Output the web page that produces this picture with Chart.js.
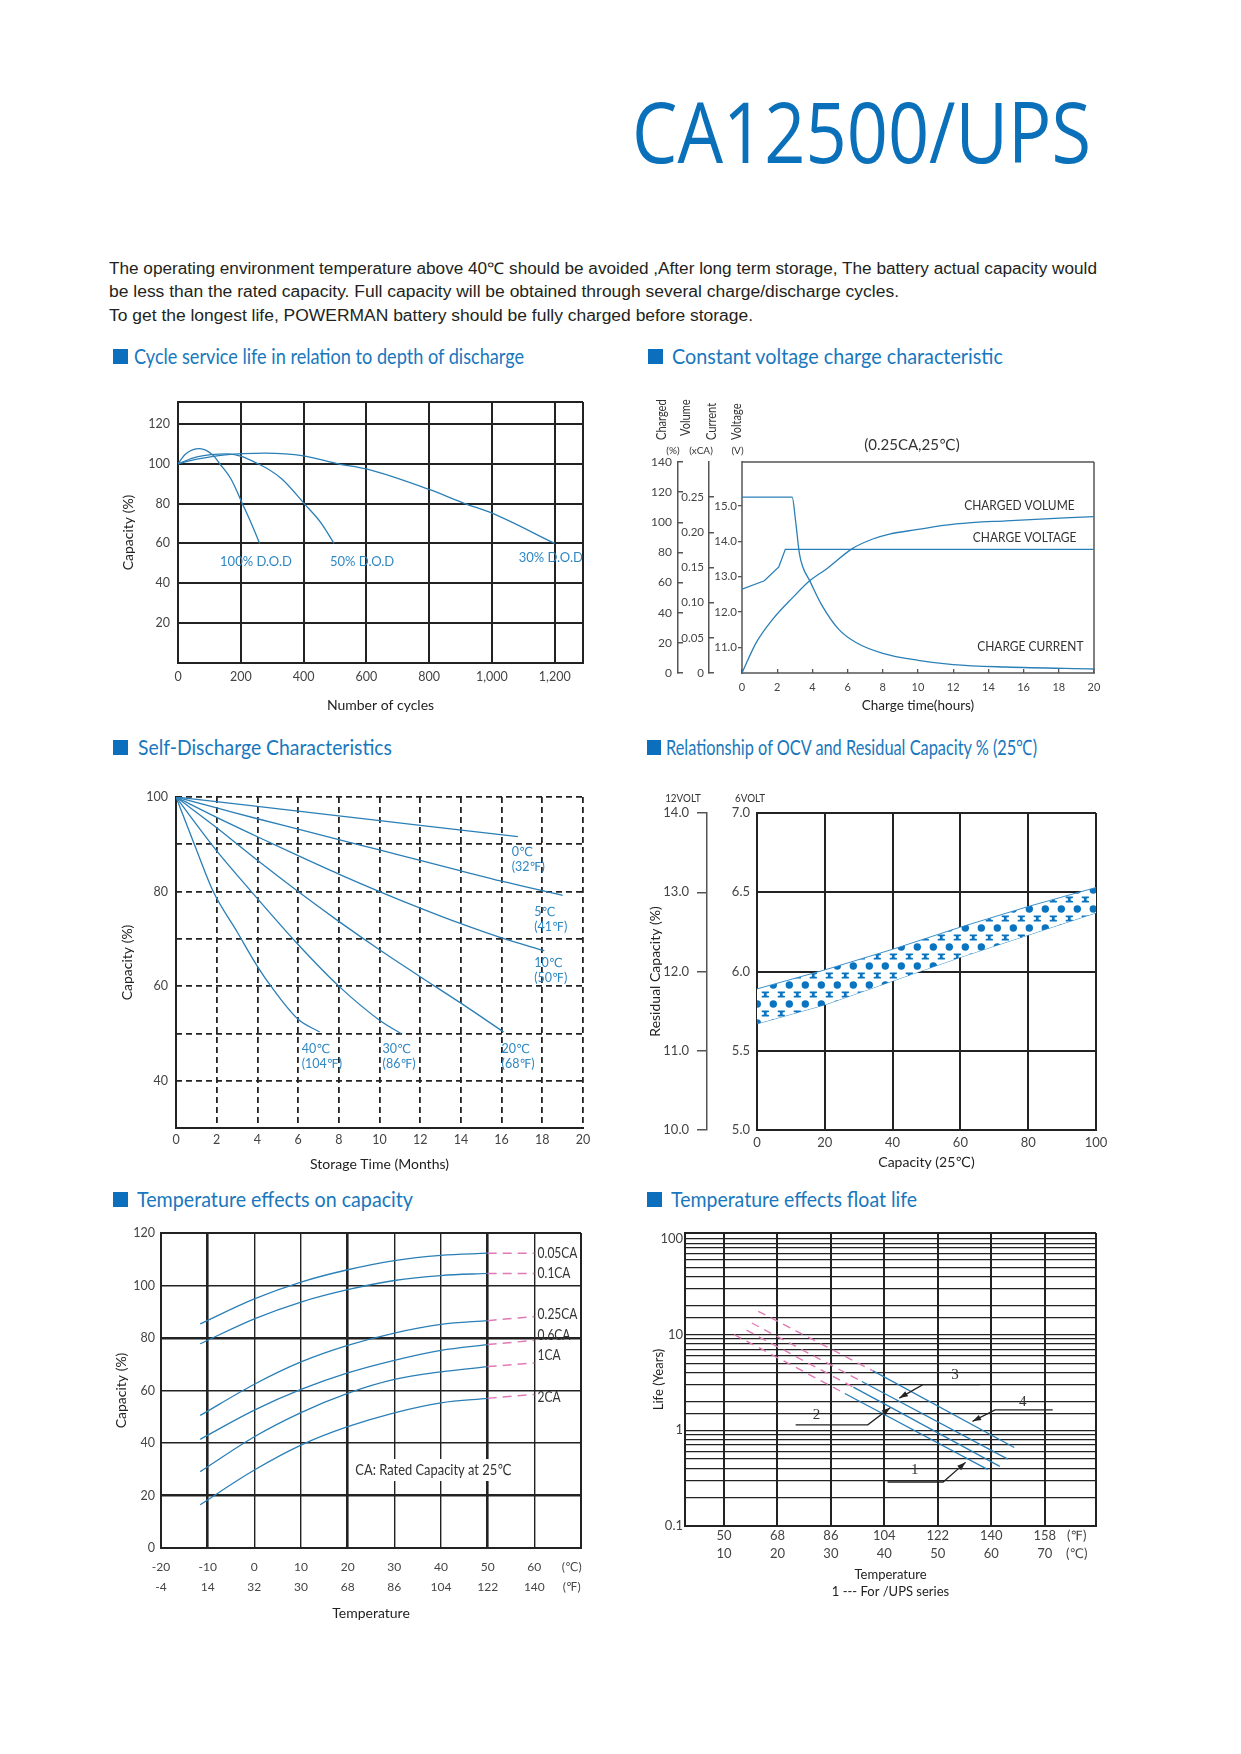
<!DOCTYPE html>
<html>
<head>
<meta charset="utf-8">
<title>CA12500/UPS</title>
<script src="https://cdn.jsdelivr.net/npm/chart.js@4.4.1/dist/chart.umd.min.js"></script>
<style>
  html, body { margin: 0; padding: 0; background: #fff; }
  body { position: relative; width: 1241px; height: 1754px; overflow: hidden; font-family: Lato, sans-serif; }
  .t { position: absolute; white-space: nowrap; display: inline-block; transform-origin: 0 0; }
  .title { left: 632px; top: 89px; font-family: 'Open Sans', sans-serif; font-size: 84px; line-height: 84px; color: #0a70b9; }
  .para { left: 109px; font-family: 'Liberation Sans', Arial, sans-serif; font-size: 16px; line-height: 23.3px; color: #231f20; }
  .head { font-family: Lato, sans-serif; font-size: 21px; line-height: 21px; color: #1877bd; }
  .sq { position: absolute; width: 15px; height: 15px; background: #0b6fbe; }
  canvas { position: absolute; }
</style>
</head>
<body>
<div class="t title" data-w="459">CA12500/UPS</div>
<div class="t para" style="top:257px" data-w="988">The operating environment temperature above 40℃ should be avoided ,After long term storage, The battery actual capacity would</div>
<div class="t para" style="top:280px" data-w="790">be less than the rated capacity. Full capacity will be obtained through several charge/discharge cycles.</div>
<div class="t para" style="top:303.5px" data-w="644">To get the longest life, POWERMAN battery should be fully charged before storage.</div>

<div class="sq" style="left:113px;top:349px"></div>
<div class="t head" style="left:134px;top:345.4px" data-w="390">Cycle service life in relation to depth of discharge</div>
<div class="sq" style="left:648px;top:349px"></div>
<div class="t head" style="left:672px;top:345.4px" data-w="331">Constant voltage charge characteristic</div>
<div class="sq" style="left:113px;top:740px"></div>
<div class="t head" style="left:138px;top:736.4px" data-w="254">Self-Discharge Characteristics</div>
<div class="sq" style="left:647px;top:740px;width:14px"></div>
<div class="t head" style="left:666px;top:736.4px" data-w="371">Relationship of OCV and Residual Capacity % (25℃)</div>
<div class="sq" style="left:113px;top:1192px"></div>
<div class="t head" style="left:137px;top:1188px" data-w="276">Temperature effects on capacity</div>
<div class="sq" style="left:647px;top:1192px"></div>
<div class="t head" style="left:671px;top:1188px" data-w="246">Temperature effects float life</div>

<canvas id="cycle" width="480" height="340" style="left:110px;top:380px"></canvas>
<canvas id="charge" width="465" height="330" style="left:640px;top:390px"></canvas>
<canvas id="selfdis" width="485" height="393" style="left:110px;top:785px"></canvas>
<canvas id="ocv" width="480" height="392" style="left:640px;top:783px"></canvas>
<canvas id="tempcap" width="490" height="410" style="left:100px;top:1220px"></canvas>
<canvas id="floatlife" width="465" height="383" style="left:640px;top:1222px"></canvas>

<script>
// ---- data ----
// cycle life vs depth of discharge
const cycleX100 = [0, 25, 69, 110, 133, 170, 205, 235, 260];
const cycleY100 = [100, 105, 107.6, 104.5, 100, 92, 80, 69.5, 60];
const cycleX50 = [0, 60, 159, 255, 330, 402, 457, 497];
const cycleY50 = [100, 103.5, 105, 100, 92.5, 80, 70, 60];
const cycleX30 = [0, 60, 150, 276, 400, 510, 600, 800, 914, 1000, 1200];
const cycleY30 = [100, 102.3, 104.5, 105.3, 104, 100, 97.4, 87.1, 80, 75.2, 60];
const cycleTicks = [0, 200, 400, 600, 800, 1000, 1200];
const cycleCapTicks = [20, 40, 60, 80, 100, 120];

// constant voltage charge (0.25CA, 25C)
const volHours = [0, 0.8, 1.74, 2.88, 3.83, 4.78, 6.29, 7.43, 8.38, 9.9, 12.17, 15, 20];
const volCharged = [0, 20, 35.6, 50, 61, 68.9, 82.7, 88.9, 92.2, 95.1, 98.9, 101, 103.8];
const curHours = [0, 2.85, 3.05, 3.26, 3.45, 3.83, 4.5, 5.5, 6.5, 8, 10, 12, 15, 20];
const curAmps = [0.25, 0.25, 0.215, 0.17, 0.151, 0.132, 0.098, 0.062, 0.043, 0.028, 0.018, 0.012, 0.0085, 0.0057];
const voltHours = [0, 1.27, 2.09, 2.46, 20];
const voltValues = [12.64, 12.88, 13.27, 13.77, 13.77];
const chargeTimeTicks = [0, 2, 4, 6, 8, 10, 12, 14, 16, 18, 20];
const chargedTicks = [0, 20, 40, 60, 80, 100, 120, 140];
const currentTicks = [0, 0.05, 0.1, 0.15, 0.2, 0.25];
const voltageTicks = [11, 12, 13, 14, 15];

// self discharge
const sd0X = [0, 4, 8, 12, 16.8];
const sd0Y = [100, 98, 96, 94, 91.6];
const sd5X = [0, 2, 4, 6, 8, 10, 12, 14, 16, 19];
const sd5Y = [100, 97.7, 95.4, 93.2, 91, 88.8, 86.6, 84.4, 82.2, 79.2];
const sd10X = [0, 2, 4, 6, 8, 10, 12, 14, 16, 18.1];
const sd10Y = [100, 95.7, 91.6, 87.6, 83.7, 80, 76.5, 73.2, 70.2, 67.5];
const sd20X = [0, 2, 4, 6, 8, 10, 12, 14, 16.1];
const sd20Y = [100, 93.5, 86.6, 80, 73.7, 67.7, 62, 56.4, 50.3];
const sd30X = [0, 1, 2, 3.7, 6, 8, 10, 11.05];
const sd30Y = [100, 94.2, 88.6, 80, 68.8, 60, 52.8, 50];
const sd40X = [0, 0.9, 1.83, 3, 4, 4.8, 6, 7.06];
const sd40Y = [100, 90, 80, 71.5, 64.2, 59.2, 53, 50.3];

// OCV vs residual capacity band
const ocvCap = [0, 20, 40, 60, 80, 100];
const ocvHigh = [5.89, 6.01, 6.14, 6.28, 6.41, 6.53];
const ocvLow = [5.67, 5.79, 5.94, 6.09, 6.23, 6.37];

// temperature effects on capacity
const tempX = [-11.6, 0, 10, 20, 30, 40, 50];
const cap005 = [85.4, 94.9, 101.3, 106, 109.5, 111.5, 112.3];
const cap01 = [77.8, 87.3, 93.7, 98.4, 101.9, 103.8, 104.6];
const cap025 = [50.5, 62.4, 70.9, 77.2, 81.9, 85.2, 86.6];
const cap06 = [41.4, 52.5, 60.4, 66.7, 71.5, 75.3, 77.5];
const cap1 = [29.1, 42.4, 51.6, 58.9, 64.2, 67.1, 69.1];
const cap2 = [16.5, 29.7, 39.2, 46.2, 51.5, 55.3, 57];
const extX = [50, 60];
const capExt = [112.3, 104.6, 88.2, 79.1, 70.5, 58.5];
const capRates = ['0.05CA', '0.1CA', '0.25CA', '0.6CA', '1CA', '2CA'];
const capLabelY = [112.3, 104.6, 88.9, 81, 73.4, 57.6];
const capTempTicks = [-20, -10, 0, 10, 20, 30, 40, 50, 60, 68];
const capTempC = ['-20', '-10', '0', '10', '20', '30', '40', '50', '60', '(℃)'];
const capTempF = ['-4', '14', '32', '30', '68', '86', '104', '122', '140', '(℉)'];

// float life vs temperature (4 lines)
const lifeStartC = [11.9, 14.2, 15.2, 16.4];
const lifeStartY = [10.0, 11.1, 13.2, 17.5];
const lifeMidC = [32.6, 34.2, 35.8, 37.8];
const lifeMidY = [2.42, 2.82, 3.23, 4.2];
const lifeEndC = [59.3, 61.6, 63.1, 64.3];
const lifeEndY = [0.39, 0.42, 0.50, 0.66];
const lifeTempTicks = [10, 20, 30, 40, 50, 60, 70, 76];
const lifeTempF = ['50', '68', '86', '104', '122', '140', '158', '(℉)'];
const lifeTempC = ['10', '20', '30', '40', '50', '60', '70', '(℃)'];

// ---- helpers ----
const lineBlue = '#2a7fb6';
const labelBlue = '#2f88c4';
const pink = '#e07ab5';
const gridDark = '#222';
const clear = 'rgba(0,0,0,0)';
const FONT = 'Lato, "DejaVu Sans", sans-serif';

Chart.defaults.font.family = FONT;
Chart.defaults.font.size = 12;
Chart.defaults.color = '#444';
Chart.defaults.animation = false;
Chart.defaults.responsive = false;
Chart.defaults.devicePixelRatio = 1;
Chart.defaults.plugins.legend.display = false;
Chart.defaults.plugins.tooltip.enabled = false;
Chart.defaults.elements.point.radius = 0;

const pts = (xs, ys) => xs.map((x, i) => ({ x, y: ys[i] }));
const curve = (xs, ys, extra) => Object.assign({
  data: pts(xs, ys), borderColor: lineBlue, borderWidth: 1.3,
  cubicInterpolationMode: 'monotone', fill: false
}, extra || {});
// fixed axis sizes, and no extra room for overhanging end labels
const fixW = w => s => { s.width = w; s.paddingTop = 0; s.paddingBottom = 0; };
const fixH = h => s => { s.height = h; s.paddingLeft = 0; s.paddingRight = 0; };
const setTicks = arr => s => { s.ticks = arr.map(v => ({ value: v })); };

const frame = {
  id: 'frame',
  beforeDatasetsDraw(chart, args, opts) {
    const a = chart.chartArea, ctx = chart.ctx;
    const sides = opts.sides || 'tlbr';
    ctx.save();
    ctx.strokeStyle = opts.color || gridDark;
    ctx.lineWidth = opts.width || 2;
    ctx.beginPath();
    if (sides.includes('t')) { ctx.moveTo(a.left, a.top); ctx.lineTo(a.right, a.top); }
    if (sides.includes('r')) { ctx.moveTo(a.right, a.top); ctx.lineTo(a.right, a.bottom); }
    if (sides.includes('b')) { ctx.moveTo(a.left - 1, a.bottom); ctx.lineTo(a.right + 1, a.bottom); }
    if (sides.includes('l')) { ctx.moveTo(a.left, a.top - 1); ctx.lineTo(a.left, a.bottom + 1); }
    ctx.stroke();
    ctx.restore();
  }
};

function drawText(ctx, it, px, py) {
  ctx.save();
  ctx.font = it.font || ('13px ' + FONT);
  ctx.fillStyle = it.color || '#333';
  ctx.textBaseline = 'middle';
  ctx.textAlign = it.align || 'left';
  const lines = it.text.split('\n');
  const lh = it.lh || 15;
  ctx.translate(px, py);
  if (it.rot) ctx.rotate(it.rot);
  ctx.scale(it.sx || 1, 1);
  if (it.bg) {
    const w = Math.max(...lines.map(t => ctx.measureText(t).width));
    const x0 = it.align === 'center' ? -w / 2 : it.align === 'right' ? -w : 0;
    ctx.fillStyle = it.bg;
    ctx.fillRect(x0 - 4, -lh / 2 - 2, w + 8, lh * lines.length + 4);
    ctx.fillStyle = it.color || '#333';
  }
  lines.forEach((t, i) => ctx.fillText(t, 0, i * lh));
  ctx.restore();
}

const notes = {
  id: 'notes',
  afterDraw(chart, args, opts) {
    for (const it of opts.items || []) {
      let px = it.px, py = it.py;
      if (px === undefined) px = chart.scales[it.xs || 'x'].getPixelForValue(it.x);
      if (py === undefined) py = chart.scales[it.ys || 'y'].getPixelForValue(it.y);
      drawText(chart.ctx, it, px, py);
    }
  }
};

const leaders = {
  id: 'leaders',
  afterDraw(chart, args, opts) {
    const ctx = chart.ctx, xs = chart.scales.x, ys = chart.scales.y;
    for (const L of opts.items || []) {
      const p = L.pts.map(([c, v]) => [xs.getPixelForValue(c), ys.getPixelForValue(v)]);
      ctx.save();
      ctx.strokeStyle = '#222';
      ctx.fillStyle = '#222';
      ctx.lineWidth = 1.3;
      ctx.beginPath();
      p.forEach(([x, y], i) => (i ? ctx.lineTo(x, y) : ctx.moveTo(x, y)));
      ctx.stroke();
      const [x1, y1] = p[p.length - 2], [x2, y2] = p[p.length - 1];
      const a = Math.atan2(y2 - y1, x2 - x1);
      ctx.beginPath();
      ctx.moveTo(x2, y2);
      ctx.lineTo(x2 - 9 * Math.cos(a - 0.33), y2 - 9 * Math.sin(a - 0.33));
      ctx.lineTo(x2 - 9 * Math.cos(a + 0.33), y2 - 9 * Math.sin(a + 0.33));
      ctx.closePath();
      ctx.fill();
      drawText(ctx, { text: L.label, font: '15px "Liberation Serif", serif', color: '#333', align: 'center' },
        xs.getPixelForValue(L.at[0]), ys.getPixelForValue(L.at[1]));
      ctx.restore();
    }
  }
};

// dotted / I-beam hatch used inside the OCV band
function bandPattern() {
  const c = document.createElement('canvas');
  c.width = 16; c.height = 19;
  const g = c.getContext('2d');
  g.fillStyle = '#fff';
  g.fillRect(0, 0, 16, 19);
  g.fillStyle = '#0b74c0';
  g.beginPath();
  g.arc(5.3, 12, 3.7, 0, Math.PI * 2);
  g.fill();
  const ix = 13.3, iy = 2.5;
  const beam = (ox, oy) => {
    g.beginPath();
    [[-3.6, -3], [3.6, -3], [3.6, -1.6], [1.3, -1], [1.3, 1], [3.6, 1.6], [3.6, 3], [-3.6, 3],
     [-3.6, 1.6], [-1.3, 1], [-1.3, -1], [-3.6, -1.6]].forEach(([x, y], i) =>
      (i ? g.lineTo(ox + x, oy + y) : g.moveTo(ox + x, oy + y)));
    g.closePath();
    g.fill();
  };
  beam(ix, iy); beam(ix - 16, iy); beam(ix, iy + 19); beam(ix - 16, iy + 19);
  return g.createPattern(c, 'repeat');
}

const tickFont = { size: 12.5 };
const titleFont = { size: 14 };

// ---- 1. cycle service life ----
new Chart(document.getElementById('cycle'), {
  type: 'line',
  data: { datasets: [
    curve(cycleX100, cycleY100),
    curve(cycleX50, cycleY50),
    curve(cycleX30, cycleY30)
  ] },
  options: {
    layout: { padding: { top: 22, right: 7, left: 0, bottom: 0 } },
    scales: {
      x: {
        type: 'linear', min: 0, max: 1290, afterBuildTicks: setTicks(cycleTicks),
        grid: { color: gridDark, lineWidth: 2, drawTicks: false }, border: { display: false },
        ticks: { padding: 6, font: tickFont, autoSkip: false, maxRotation: 0, callback: v => v.toLocaleString('en-US') },
        title: { display: true, text: 'Number of cycles', color: '#222', font: titleFont, padding: { bottom: 6 } },
        afterFit: fixH(57)
      },
      y: {
        min: 0, max: 131, afterBuildTicks: setTicks(cycleCapTicks),
        grid: { color: gridDark, lineWidth: 2, drawTicks: false }, border: { display: false },
        ticks: { padding: 8, font: tickFont, autoSkip: false },
        title: { display: true, text: 'Capacity (%)', color: '#222', font: titleFont, padding: { top: 10 } },
        afterFit: fixW(68)
      }
    },
    plugins: {
      frame: { width: 2 },
      notes: { items: [
        { text: '100% D.O.D', x: 134, y: 51, color: labelBlue },
        { text: '50% D.O.D', x: 484, y: 51, color: labelBlue },
        { text: '30% D.O.D', x: 1085, y: 53, color: labelBlue }
      ] }
    }
  },
  plugins: [frame, notes]
});

// ---- 2. constant voltage charge ----
const hdrFont = '13px ' + FONT;
const unitFont = '10px ' + FONT;
new Chart(document.getElementById('charge'), {
  type: 'line',
  data: { datasets: [
    curve(volHours, volCharged, { yAxisID: 'yC' }),
    curve(curHours, curAmps, { yAxisID: 'yI' }),
    curve(voltHours, voltValues, { yAxisID: 'yV', cubicInterpolationMode: 'default', tension: 0 })
  ] },
  options: {
    layout: { padding: { top: 72, right: 11, left: 0, bottom: 0 } },
    scales: {
      x: {
        type: 'linear', min: 0, max: 20, afterBuildTicks: setTicks(chargeTimeTicks),
        grid: { drawOnChartArea: false, tickLength: -4, color: '#555', lineWidth: 1.3 }, border: { display: false },
        ticks: { padding: 12, font: { size: 11 }, autoSkip: false, maxRotation: 0 },
        title: { display: true, text: 'Charge time(hours)', color: '#222', font: { size: 13.5 }, padding: { bottom: 6 } },
        afterFit: fixH(47)
      },
      yV: {
        position: 'left', weight: 0, min: 10.27, max: 16.24, afterBuildTicks: setTicks(voltageTicks),
        grid: { drawOnChartArea: false, tickLength: 4, color: '#555', lineWidth: 1.3 }, border: { display: false },
        ticks: { padding: 1, font: { size: 11.5 }, autoSkip: false, callback: v => v.toFixed(1) },
        afterFit: fixW(33)
      },
      yI: {
        position: 'left', weight: 1, min: 0, max: 0.3, afterBuildTicks: setTicks(currentTicks),
        grid: { drawOnChartArea: false, tickLength: -5, color: '#555', lineWidth: 1.5 }, border: { color: '#555', width: 1.5 },
        ticks: { padding: 10, font: { size: 11.5 }, autoSkip: false, callback: v => (v === 0 ? '0' : v.toFixed(2)) },
        afterFit: fixW(31)
      },
      yC: {
        position: 'left', weight: 2, min: 0, max: 140, afterBuildTicks: setTicks(chargedTicks),
        grid: { drawOnChartArea: false, tickLength: -5, color: '#555', lineWidth: 1.5 }, border: { color: '#555', width: 1.5 },
        ticks: { padding: 11, font: { size: 12 }, autoSkip: false },
        afterFit: fixW(38)
      }
    },
    plugins: {
      frame: { width: 1.5, color: '#555' },
      notes: { items: [
        { text: 'Charged', px: 21.5, py: 50, rot: -Math.PI / 2, font: hdrFont, sx: 0.85 },
        { text: 'Volume', px: 45.5, py: 46, rot: -Math.PI / 2, font: hdrFont, sx: 0.85 },
        { text: 'Current', px: 71.5, py: 50, rot: -Math.PI / 2, font: hdrFont, sx: 0.85 },
        { text: 'Voltage', px: 97, py: 50, rot: -Math.PI / 2, font: hdrFont, sx: 0.85 },
        { text: '(%)', px: 33, py: 61, align: 'center', font: unitFont },
        { text: '(xCA)', px: 61, py: 61, align: 'center', font: unitFont },
        { text: '(V)', px: 97.5, py: 61, align: 'center', font: unitFont },
        { text: '(0.25CA,25℃)', px: 272, py: 55, align: 'center', font: '15px ' + FONT },
        { text: 'CHARGED VOLUME', x: 18.9, y: 15.0, ys: 'yV', align: 'right', sx: 0.92 },
        { text: 'CHARGE VOLTAGE', x: 19.0, y: 14.1, ys: 'yV', align: 'right', sx: 0.92 },
        { text: 'CHARGE CURRENT', x: 19.4, y: 11.0, ys: 'yV', align: 'right', sx: 0.92 }
      ] }
    }
  },
  plugins: [frame, notes]
});

// ---- 3. self discharge ----
const noteFont = '12.5px ' + FONT;
new Chart(document.getElementById('selfdis'), {
  type: 'line',
  data: { datasets: [
    curve(sd0X, sd0Y), curve(sd5X, sd5Y), curve(sd10X, sd10Y),
    curve(sd20X, sd20Y), curve(sd30X, sd30Y), curve(sd40X, sd40Y)
  ] },
  options: {
    layout: { padding: { top: 12, right: 12, left: 0, bottom: 0 } },
    scales: {
      x: {
        type: 'linear', min: 0, max: 20,
        ticks: { stepSize: 2, padding: 4, font: tickFont, autoSkip: false, maxRotation: 0 },
        grid: { color: gridDark, lineWidth: 1.8, drawTicks: false }, border: { display: false, dash: [6, 4] },
        title: { display: true, text: 'Storage Time (Months)', color: '#222', font: titleFont, padding: { bottom: 5 } },
        afterFit: fixH(50)
      },
      y: {
        min: 30, max: 100,
        ticks: { stepSize: 10, padding: 8, font: tickFont, autoSkip: false, callback: v => (v % 20 === 0 && v >= 40 ? String(v) : '') },
        grid: { color: gridDark, lineWidth: 1.8, drawTicks: false }, border: { display: false, dash: [6, 4] },
        title: { display: true, text: 'Capacity (%)', color: '#222', font: titleFont, padding: { top: 9 } },
        afterFit: fixW(66)
      }
    },
    plugins: {
      frame: { width: 2, sides: 'lb' },
      notes: { items: [
        { text: '0℃\n(32℉)', x: 16.5, y: 88.4, color: labelBlue, font: noteFont },
        { text: '5℃\n(41℉)', x: 17.6, y: 75.7, color: labelBlue, font: noteFont },
        { text: '10℃\n(50℉)', x: 17.6, y: 64.9, color: labelBlue, font: noteFont },
        { text: '40℃\n(104℉)', x: 6.18, y: 46.7, color: labelBlue, font: noteFont },
        { text: '30℃\n(86℉)', x: 10.15, y: 46.7, color: labelBlue, font: noteFont },
        { text: '20℃\n(68℉)', x: 16.0, y: 46.7, color: labelBlue, font: noteFont }
      ] }
    }
  },
  plugins: [frame, notes]
});

// ---- 4. OCV vs residual capacity ----
new Chart(document.getElementById('ocv'), {
  type: 'line',
  data: { datasets: [
    { data: pts(ocvCap, ocvHigh), borderColor: '#3a8fca', borderWidth: 1, tension: 0, fill: '+1', backgroundColor: bandPattern() },
    { data: pts(ocvCap, ocvLow), borderColor: '#3a8fca', borderWidth: 1, tension: 0, fill: false }
  ] },
  options: {
    layout: { padding: { top: 30, right: 24, left: 0, bottom: 0 } },
    scales: {
      x: {
        type: 'linear', min: 0, max: 100,
        ticks: { stepSize: 20, padding: 5, font: { size: 13 }, autoSkip: false, maxRotation: 0 },
        grid: { color: gridDark, lineWidth: 2, drawTicks: false }, border: { display: false },
        title: { display: true, text: 'Capacity (25℃)', color: '#222', font: titleFont, padding: { bottom: 4 } },
        afterFit: fixH(45)
      },
      y: {
        position: 'left', weight: 0, min: 5, max: 7,
        ticks: { stepSize: 0.5, padding: 7, font: { size: 13 }, autoSkip: false, callback: v => v.toFixed(1) },
        grid: { color: gridDark, lineWidth: 2, drawTicks: false }, border: { display: false },
        afterFit: fixW(50)
      },
      y12: {
        position: 'left', weight: 1, min: 10, max: 14,
        ticks: { stepSize: 1, padding: 8, font: { size: 13 }, autoSkip: false, callback: v => v.toFixed(1) },
        grid: { drawOnChartArea: false, tickLength: 10, color: '#555', lineWidth: 1.5 }, border: { color: '#555', width: 1.5 },
        title: { display: true, text: 'Residual Capacity (%)', color: '#222', font: titleFont, padding: { top: 7 } },
        afterFit: fixW(67)
      }
    },
    plugins: {
      frame: { width: 2 },
      notes: { items: [
        { text: '12VOLT', px: 43, py: 15, align: 'center', font: '12px ' + FONT, sx: 0.82 },
        { text: '6VOLT', px: 110, py: 15, align: 'center', font: '12px ' + FONT, sx: 0.82 }
      ] }
    }
  },
  plugins: [frame, notes]
});

// ---- 5. temperature effects on capacity ----
const capSeries = [cap005, cap01, cap025, cap06, cap1, cap2];
const thickC = [-10, 20, 50];
const thickCap = [20, 80];
new Chart(document.getElementById('tempcap'), {
  type: 'line',
  data: { datasets: [
    ...capSeries.map(s => curve(tempX, s)),
    ...capSeries.map((s, i) => ({
      data: pts(extX, [s[s.length - 1], capExt[i]]), borderColor: pink, borderWidth: 1.5,
      borderDash: [9, 6], tension: 0, fill: false
    }))
  ] },
  options: {
    layout: { padding: { top: 13, right: 9, left: 0, bottom: 0 } },
    scales: {
      x: {
        type: 'linear', min: -20, max: 70, afterBuildTicks: setTicks(capTempTicks),
        ticks: { padding: 9, font: { size: 12, lineHeight: 1.67 }, autoSkip: false, maxRotation: 0,
          callback: (v, i) => [capTempC[i], capTempF[i]] },
        grid: { drawTicks: false,
          color: c => (c.tick && c.tick.value === 68 ? clear : gridDark),
          lineWidth: c => (c.tick && thickC.includes(c.tick.value) ? 2.6 : 1.4) },
        border: { display: false },
        title: { display: true, text: 'Temperature', color: '#222', font: titleFont, padding: { bottom: 8 } },
        afterFit: fixH(82)
      },
      y: {
        min: 0, max: 120,
        ticks: { stepSize: 20, padding: 6, font: tickFont, autoSkip: false },
        grid: { color: gridDark, drawTicks: false, lineWidth: c => (c.tick && thickCap.includes(c.tick.value) ? 2.6 : 1.4) },
        border: { display: false },
        title: { display: true, text: 'Capacity (%)', color: '#222', font: titleFont, padding: { top: 13 } },
        afterFit: fixW(61)
      }
    },
    plugins: {
      frame: { width: 2 },
      notes: { items: [
        ...capRates.map((r, i) => ({ text: r, x: 60.7, y: capLabelY[i], font: '15px ' + FONT, sx: 0.8, color: '#333' })),
        { text: 'CA: Rated Capacity at 25℃', x: 38.4, y: 29.7, align: 'center', font: '15px ' + FONT, sx: 0.86, bg: '#fff', lh: 18 }
      ] }
    }
  },
  plugins: [frame, notes]
});

// ---- 6. float life ----
const isDecade = v => { const l = Math.log10(v); return Math.abs(l - Math.round(l)) < 1e-9; };
new Chart(document.getElementById('floatlife'), {
  type: 'line',
  data: { datasets: [
    ...lifeStartC.map((c, i) => ({
      data: pts([c, lifeMidC[i]], [lifeStartY[i], lifeMidY[i]]), borderColor: pink, borderWidth: 1.4,
      borderDash: [8, 6], tension: 0, fill: false
    })),
    ...lifeMidC.map((c, i) => ({
      data: pts([c, lifeEndC[i]], [lifeMidY[i], lifeEndY[i]]), borderColor: lineBlue, borderWidth: 1.3,
      tension: 0, fill: false
    }))
  ] },
  options: {
    layout: { padding: { top: 11, right: 9, left: 0, bottom: 0 } },
    scales: {
      x: {
        type: 'linear', min: 2.7, max: 79.6, afterBuildTicks: setTicks(lifeTempTicks),
        ticks: { padding: 1, font: { size: 13 , lineHeight: 1.385 }, autoSkip: false, maxRotation: 0,
          callback: (v, i) => [lifeTempF[i], lifeTempC[i]] },
        grid: { drawTicks: false, lineWidth: 2, color: c => (c.tick && c.tick.value === 76 ? clear : gridDark) },
        border: { display: false },
        title: { display: true, text: ['Temperature', '1 --- For /UPS series'], color: '#222',
          font: { size: 13, lineHeight: 1.31 }, padding: { bottom: 4.5 } },
        afterFit: fixH(79)
      },
      y: {
        type: 'logarithmic', min: 0.1, max: 115,
        ticks: { padding: 2, font: { size: 13 }, autoSkip: false, callback: v => (isDecade(v) ? String(v) : '') },
        grid: { color: gridDark, lineWidth: 1.3, drawTicks: false }, border: { display: false },
        title: { display: true, text: 'Life (Years)', color: '#222', font: { size: 13 }, padding: { top: 11 } },
        afterFit: fixW(45)
      }
    },
    plugins: {
      frame: { width: 2 },
      leaders: { items: [
        { label: '3', at: [53.2, 3.73], pts: [[57.9, 3.0], [47.2, 3.0], [42.8, 2.17]] },
        { label: '4', at: [65.9, 1.95], pts: [[71.5, 1.63], [60.7, 1.63], [56.5, 1.24]] },
        { label: '2', at: [27.3, 1.45], pts: [[23.4, 1.14], [36.9, 1.14], [41.1, 1.72]] },
        { label: '1', at: [45.7, 0.388], pts: [[40.6, 0.288], [51.0, 0.288], [55.2, 0.462]] }
      ] }
    }
  },
  plugins: [frame, leaders]
});

// squeeze the condensed headings/paragraph to the datasheet widths
document.querySelectorAll('[data-w]').forEach(el => {
  const w = el.getBoundingClientRect().width;
  el.style.transform = 'scaleX(' + (el.dataset.w / w) + ')';
});
</script>
</body>
</html>
